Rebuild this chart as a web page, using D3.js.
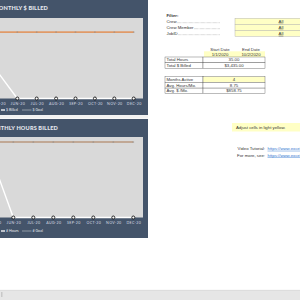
<!DOCTYPE html>
<html>
<head>
<meta charset="utf-8">
<script src="https://cdn.jsdelivr.net/npm/d3@7"></script>
<style>
  html, body { margin: 0; padding: 0; background: #fff; }
  svg { display: block; }
</style>
</head>
<body>
<svg id="sheet" width="300" height="300"></svg>
<script>
// chart data
const months = ["JAN-20", "FEB-20", "MAR-20", "APR-20", "MAY-20", "JUN-20",
                "JUL-20", "AUG-20", "SEP-20", "OCT-20", "NOV-20", "DEC-20"];
const dollarsBilled = [0, 700, 760, 675, 1300, 0, 0, 0, 0, 0, 0, 0];
const dollarGoal = 3300;
const hoursBilled = [0, 7, 9, 8, 11, 0, 0, 0, 0, 0, 0, 0];
const hourGoal = 15;

// sheet cells
const filterLabels = ["Crew", "Crew Member", "JobID"];
const filterValues = ["All", "All", "All"];
const dateHeaders = ["Start Date", "End Date"];
const dateValues = ["1/1/2020", "10/2/2020"];
const totalLabels = ["Total Hours", "Total $ Billed"];
const totalValues = ["35.00", "$3,435.00"];
const avgLabels = ["Months Active", "Avg. Hours/Mo.", "Avg. $ /Mo."];
const avgValues = ["4", "8.75", "$858.75"];
const linkLabels = ["Video Tutorial:", "For more, see:"];
const linkUrls = ["https://www.exceltemplates.net/video", "https://www.exceltemplates.net/"];

const svg = d3.select("#sheet");
const chartFont = "Lato, 'Open Sans', sans-serif";
const cellFont = "'Liberation Sans', Arial, sans-serif";

function drawChart(cfg) {
    const g = svg.append("g");

    // panel + title
    g.append("rect")
        .attr("x", -110).attr("y", cfg.top)
        .attr("width", 258).attr("height", cfg.bottom - cfg.top)
        .attr("fill", "#44546a");
    g.append("text")
        .attr("x", cfg.titleX).attr("y", cfg.titleY)
        .attr("text-anchor", "end")
        .attr("font-family", chartFont).attr("font-weight", 900)
        .attr("font-size", 5.6).attr("letter-spacing", 0.15)
        .attr("fill", "#e4e8ee")
        .text(cfg.title);

    // plot area
    g.append("rect")
        .attr("x", -100).attr("y", cfg.plotTop)
        .attr("width", 243).attr("height", cfg.plotBottom - cfg.plotTop)
        .attr("fill", "#d9d9d9");

    const x = d3.scalePoint().domain(months).range(cfg.xRange);
    const y = d3.scaleLinear().domain([0, cfg.yMax]).range([cfg.plotBottom, cfg.plotTop]);

    // goal line
    const goalData = months.map(m => ({ m, v: cfg.goal }));
    const line = d3.line().x(d => x(d.m)).y(d => y(d.v));
    g.append("path")
        .datum(goalData)
        .attr("d", line)
        .attr("fill", "none")
        .attr("stroke", cfg.goalColor)
        .attr("stroke-width", 1.6);
    g.selectAll(".gm").data(goalData).join("line")
        .attr("x1", d => x(d.m) - 0.8).attr("x2", d => x(d.m) + 0.8)
        .attr("y1", d => y(d.v)).attr("y2", d => y(d.v))
        .attr("stroke", "#8c8c8c").attr("stroke-width", 0.8);

    // actuals
    const actual = months.map((m, i) => ({ m, v: cfg.values[i] }));
    g.append("path")
        .datum(actual)
        .attr("d", line)
        .attr("fill", "none")
        .attr("stroke", "#ffffff")
        .attr("stroke-width", 1.4);
    g.selectAll(".pt").data(actual).join("circle")
        .attr("cx", d => x(d.m)).attr("cy", d => y(d.v))
        .attr("r", 1.5)
        .attr("fill", "#ffffff")
        .attr("stroke", "#111")
        .attr("stroke-width", 0.9);

    // category axis
    const axis = g.append("g")
        .attr("transform", `translate(0,${cfg.plotBottom})`)
        .call(d3.axisBottom(x).tickSize(0).tickPadding(3.5));
    axis.select(".domain").remove();
    axis.selectAll("text")
        .attr("font-family", chartFont).attr("font-size", 3.6)
        .attr("letter-spacing", 0.35)
        .attr("fill", "#d8dde4");

    // legend
    const lg = g.append("g").attr("transform", `translate(0,${cfg.legendY})`);
    lg.append("line").attr("x1", 1).attr("x2", 5).attr("y1", 0).attr("y2", 0)
        .attr("stroke", "#fff").attr("stroke-width", 1.3);
    lg.append("text").attr("x", 6).attr("y", 1.3)
        .attr("font-family", chartFont).attr("font-size", 3.6).attr("fill", "#e4e8ee")
        .text(cfg.legend[0]);
    lg.append("line").attr("x1", 22).attr("x2", 31.5).attr("y1", 0).attr("y2", 0)
        .attr("stroke", "#9aa3ad").attr("stroke-width", 0.9);
    lg.append("text").attr("x", 32.5).attr("y", 1.3)
        .attr("font-family", chartFont).attr("font-size", 3.6).attr("fill", "#e4e8ee")
        .text(cfg.legend[1]);
}

drawChart({
    title: "MONTHLY $ BILLED", titleX: 48, titleY: 10,
    top: -5, bottom: 115, plotTop: 18, plotBottom: 98.5,
    xRange: [-79.7, 133.7], yMax: 4000,
    values: dollarsBilled, goal: dollarGoal, goalColor: "#e09a68",
    legendY: 110, legend: ["$ Billed", "$ Goal"]
});

// gap between charts
svg.append("rect").attr("x", 0).attr("y", 115).attr("width", 148).attr("height", 3.5)
    .attr("fill", "#f2f2f2");

drawChart({
    title: "MONTHLY HOURS BILLED", titleX: 58, titleY: 130,
    top: 119, bottom: 238, plotTop: 137, plotBottom: 217.5,
    xRange: [-86.7, 133.3], yMax: 16,
    values: hoursBilled, goal: hourGoal, goalColor: "#b8977e",
    legendY: 231, legend: ["# Hours", "# Goal"]
});

// ---- sheet cells ----
const cells = svg.append("g")
    .attr("font-family", cellFont).attr("font-size", 4.3).attr("fill", "#333");

cells.append("text").attr("x", 166.5).attr("y", 16.5)
    .attr("font-weight", "bold").text("Filter:");

const rowH = 6;
filterLabels.forEach((lab, i) => {
    const cy = 21.3 + i * rowH;
    const t = cells.append("text").attr("x", 166.5).attr("y", cy + 1.5).text(lab);
    const w = t.node().getComputedTextLength();
    cells.append("line")
        .attr("x1", 166.5 + w + 0.5).attr("x2", 220)
        .attr("y1", cy + 1.4).attr("y2", cy + 1.4)
        .attr("stroke", "#555").attr("stroke-width", 0.45)
        .attr("stroke-dasharray", "0.45,0.75");
    cells.append("rect")
        .attr("x", 235).attr("y", cy - 3).attr("width", 70).attr("height", rowH)
        .attr("fill", "#ffffc5").attr("stroke", "#a6a6a6").attr("stroke-width", 0.4);
    cells.append("text").attr("x", 281).attr("y", cy + 1.5)
        .attr("text-anchor", "middle").attr("text-decoration", "underline")
        .text(filterValues[i]);
});

// date block
const dateX = [220, 251];
dateHeaders.forEach((h, i) => {
    cells.append("text").attr("x", dateX[i]).attr("y", 50.8)
        .attr("text-anchor", "middle").text(h);
});
cells.append("rect").attr("x", 204).attr("y", 51.3).attr("width", 61).attr("height", 5.7)
    .attr("fill", "#ffffc5");
dateValues.forEach((v, i) => {
    cells.append("text").attr("x", dateX[i]).attr("y", 55.6)
        .attr("text-anchor", "middle").text(v);
});

function drawTable(labels, values, top, yellowFirst) {
    const h = 5.7;
    labels.forEach((lab, i) => {
        const y0 = top + i * h;
        cells.append("rect").attr("x", 165).attr("y", y0).attr("width", 38).attr("height", h)
            .attr("fill", "#fff").attr("stroke", "#555").attr("stroke-width", 0.4);
        cells.append("rect").attr("x", 203).attr("y", y0).attr("width", 62).attr("height", h)
            .attr("fill", (yellowFirst && i === 0) ? "#ffffc5" : "#fff")
            .attr("stroke", "#555").attr("stroke-width", 0.4);
        cells.append("text").attr("x", 166.5).attr("y", y0 + 4.3).text(lab);
        cells.append("text").attr("x", 234).attr("y", y0 + 4.3)
            .attr("text-anchor", "middle").text(values[i]);
    });
}
drawTable(totalLabels, totalValues, 57, false);
drawTable(avgLabels, avgValues, 76.7, true);

// note
cells.append("rect").attr("x", 232).attr("y", 123).attr("width", 70).attr("height", 8.5)
    .attr("fill", "#ffffc5");
cells.append("text").attr("x", 236).attr("y", 128.8).text("Adjust cells in light yellow.");

linkLabels.forEach((lab, i) => {
    const y0 = 149.8 + i * 6.7;
    cells.append("text").attr("x", 265).attr("y", y0)
        .attr("text-anchor", "end").text(lab);
    cells.append("text").attr("x", 267.5).attr("y", y0)
        .attr("fill", "#2f75d0").attr("text-decoration", "underline")
        .text(linkUrls[i]);
});

// status bar
svg.append("rect").attr("x", 0).attr("y", 290).attr("width", 300).attr("height", 10)
    .attr("fill", "#e6e6e6");
svg.append("line").attr("x1", 0).attr("x2", 300).attr("y1", 290.3).attr("y2", 290.3)
    .attr("stroke", "#d2d2d2").attr("stroke-width", 0.6);
svg.append("rect").attr("x", 1).attr("y", 292).attr("width", 1.5).attr("height", 5)
    .attr("fill", "#c8c8c8");
</script>
</body>
</html>
